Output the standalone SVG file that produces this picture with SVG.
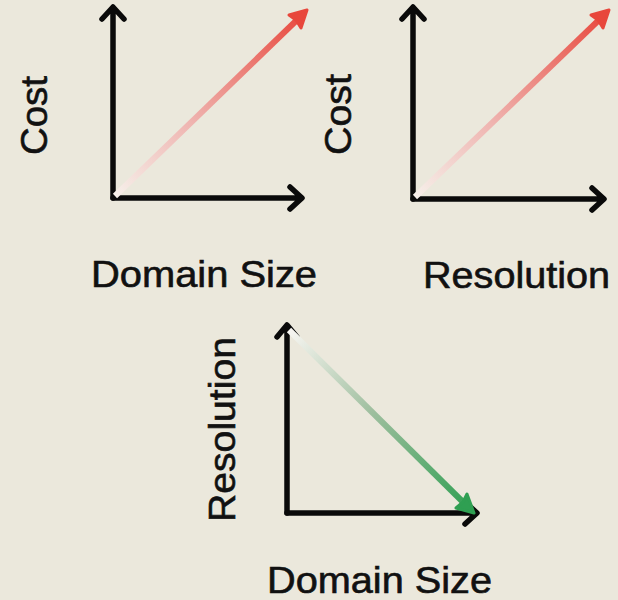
<svg xmlns="http://www.w3.org/2000/svg" width="618" height="600" viewBox="0 0 618 600">
  <style>
    .axis { fill: none; stroke: #0a0a0a; stroke-width: 5.5; stroke-linecap: round; stroke-linejoin: round; }
    .label { font-family: "Liberation Sans", Arial, sans-serif; font-size: 36px; fill: #111; stroke: #111; stroke-width: 0.6; }
  </style>
  <defs>
    <linearGradient id="redUp1" gradientUnits="userSpaceOnUse" x1="115" y1="196" x2="305" y2="12">
      <stop offset="0" stop-color="#f6f0ea"/>
      <stop offset="0.4" stop-color="#efb4b0"/>
      <stop offset="1" stop-color="#e8473c"/>
    </linearGradient>
    <linearGradient id="redUp2" gradientUnits="userSpaceOnUse" x1="415" y1="197" x2="607" y2="12">
      <stop offset="0" stop-color="#f6f0ea"/>
      <stop offset="0.4" stop-color="#efb4b0"/>
      <stop offset="1" stop-color="#e8473c"/>
    </linearGradient>
    <linearGradient id="greenDown" gradientUnits="userSpaceOnUse" x1="289" y1="330" x2="472" y2="511">
      <stop offset="0" stop-color="#f8f6f2"/>
      <stop offset="0.45" stop-color="#9fbf9f"/>
      <stop offset="1" stop-color="#2f9f52"/>
    </linearGradient>
  </defs>

  <rect width="618" height="600" fill="#ebe8dc"/>

  <!-- cost vs domain size -->
  <g id="chart-cost-domain">
    <path class="axis" d="M113,198 V8 M102,19 L113,7 L124,19"/>
    <path class="axis" d="M113,198 H301 M290,187 L302,198 L290,209"/>
    <path d="M115,196 L299,18" stroke="url(#redUp1)" stroke-width="6" fill="none"/>
    <path d="M307,10 L289,15 L296,20 L301,28 Z" fill="#e8473c" stroke="#e8473c" stroke-width="3" stroke-linejoin="round"/>
    <text class="label" x="91" y="287" textLength="226" lengthAdjust="spacingAndGlyphs">Domain Size</text>
    <text class="label" transform="translate(47,155) rotate(-90)" textLength="79" lengthAdjust="spacingAndGlyphs">Cost</text>
  </g>

  <!-- cost vs resolution -->
  <g id="chart-cost-resolution">
    <path class="axis" d="M413,199 V8 M402,19 L413,7 L424,19"/>
    <path class="axis" d="M413,199 H603 M592,188 L604,199 L592,210"/>
    <path d="M415,197 L601,18" stroke="url(#redUp2)" stroke-width="6" fill="none"/>
    <path d="M609,10 L591,15 L598,20 L603,28 Z" fill="#e8473c" stroke="#e8473c" stroke-width="3" stroke-linejoin="round"/>
    <text class="label" x="423" y="288" textLength="187" lengthAdjust="spacingAndGlyphs">Resolution</text>
    <text class="label" transform="translate(351,155) rotate(-90)" textLength="81" lengthAdjust="spacingAndGlyphs">Cost</text>
  </g>

  <!-- resolution vs domain size -->
  <g id="chart-resolution-domain">
    <path class="axis" d="M287,513 V326 M277,337 L287,325 L297,337"/>
    <path class="axis" d="M287,513 H476 M465,502 L477,513 L465,524"/>
    <path d="M289,330 L466,505" stroke="url(#greenDown)" stroke-width="6" fill="none"/>
    <path d="M474,513 L456,508 L463,502 L467,494 Z" fill="#2f9f52" stroke="#2f9f52" stroke-width="3" stroke-linejoin="round"/>
    <text class="label" x="267" y="593" textLength="225" lengthAdjust="spacingAndGlyphs">Domain Size</text>
    <text class="label" transform="translate(235,522) rotate(-90)" textLength="185" lengthAdjust="spacingAndGlyphs">Resolution</text>
  </g>
</svg>
